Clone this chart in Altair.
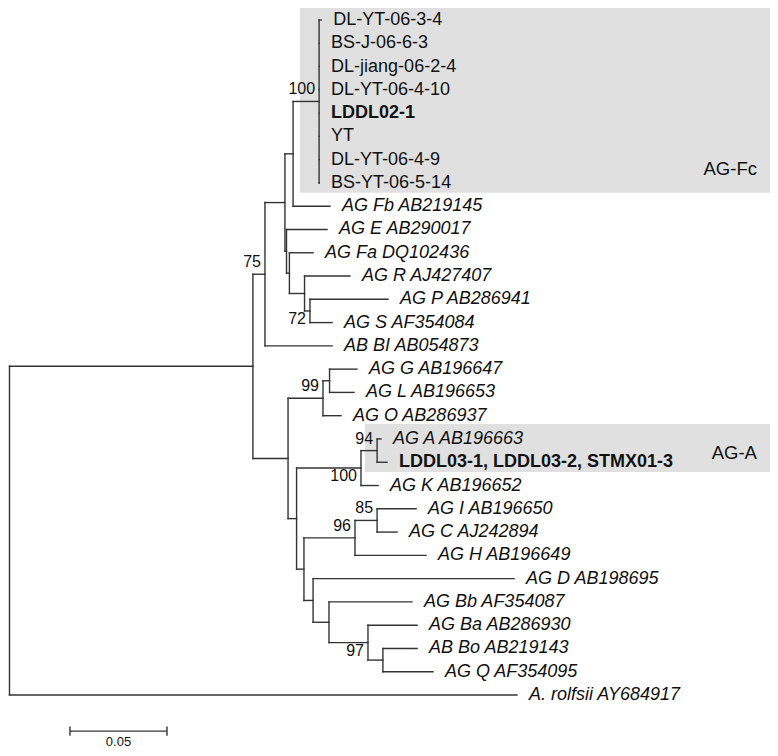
import altair as alt
import pandas as pd

# ---------------- data ----------------
leaf_names = [
    "DL-YT-06-3-4", "BS-J-06-6-3", "DL-jiang-06-2-4", "DL-YT-06-4-10",
    "LDDL02-1", "YT", "DL-YT-06-4-9", "BS-YT-06-5-14",
    "AG Fb AB219145", "AG E AB290017", "AG Fa DQ102436", "AG R AJ427407",
    "AG P AB286941", "AG S AF354084", "AB BI AB054873",
    "AG G AB196647", "AG L AB196653", "AG O AB286937",
    "AG A AB196663", "LDDL03-1, LDDL03-2, STMX01-3", "AG K AB196652",
    "AG I AB196650", "AG C AJ242894", "AG H AB196649",
    "AG D AB198695", "AG Bb AF354087", "AG Ba AB286930",
    "AB Bo AB219143", "AG Q AF354095", "A. rolfsii AY684917",
]
leaf_style = (["regular"] * 4 + ["bold"] + ["regular"] * 3
              + ["italic"] * 11 + ["bold"] + ["italic"] * 10)
leaf_parent = (["nFc"] * 8 +
               ["nA", "nD", "nC", "nR", "nPS", "nPS", "n75",
                "nGL", "nGL", "n99", "n94", "n94", "n100",
                "n85", "n85", "n96", "nW", "nV", "n97",
                "nBoQ", "nBoQ", "root"])
# distance from root (substitutions/site)
leaf_depth = [0.1630, 0.1619, 0.1619, 0.1619, 0.1619, 0.1619, 0.1619, 0.1619,
              0.1675, 0.1660, 0.1588, 0.1778, 0.1974, 0.1686, 0.1686,
              0.1814, 0.1799, 0.1732, 0.1938, 0.1969, 0.1923,
              0.2119, 0.2021, 0.2170, 0.2624, 0.2098, 0.2124,
              0.2124, 0.2206, 0.2639]

node_names = ["root", "nIn", "n75", "nB", "nA", "nFc", "nD", "nC", "nR", "nPS",
              "nX", "n99", "nGL", "nY", "n100", "n94", "nZ", "n96", "n85",
              "nW", "nV", "n97", "nBoQ"]
node_parent = ["", "root", "nIn", "n75", "nB", "nA", "nB", "nD", "nC", "nR",
               "nIn", "nX", "n99", "nX", "nY", "n100", "nY", "nZ", "n96",
               "nZ", "nW", "nV", "n97"]
node_depth = [0.0, 0.1278, 0.1340, 0.1443, 0.1485, 0.1619, 0.1451, 0.1466, 0.1544, 0.1572,
              0.1459, 0.1639, 0.1673, 0.1503, 0.1835, 0.1918, 0.1541, 0.1804, 0.1918,
              0.1588, 0.1670, 0.1871, 0.1948]
node_support = ["", "", "75", "", "", "100", "", "", "", "72",
                "", "99", "", "", "100", "94", "", "96", "85",
                "", "", "97", ""]
support_side = ["", "", "above", "", "", "above", "", "", "", "below",
                "", "above", "", "", "below", "above", "", "above", "above",
                "", "", "below", ""]

clade_names = ["AG-Fc", "AG-A"]
clade_first_leaf = [0, 18]
clade_last_leaf = [7, 19]
clade_box_start = [0.1520, 0.1856]
clade_label_row = [6.4, 18.6]
clade_label_x = [0.3876, 0.3876]

scale_bar_length = 0.05

# ---------------- tree layout ----------------
W, H = 762, 740
PX_PER_UNIT = 97 / scale_bar_length       # scale bar: 0.05 = 97 px
PX_PER_ROW = 23.276
x0 = 3 / PX_PER_UNIT
y0 = -12 / PX_PER_ROW
x_end = x0 + W / PX_PER_UNIT
xs = alt.Scale(domain=[x0, x_end], nice=False, zero=False)
ys = alt.Scale(domain=[y0, y0 + H / PX_PER_ROW], nice=False, zero=False, reverse=True)

depth = {n: d for n, d in zip(node_names, node_depth)}
# keep the root line inside the drawing
depth["root"] = max(depth["root"], x0 + 1.5 / PX_PER_UNIT)
parent = {n: p for n, p in zip(node_names, node_parent)}
children = {n: [] for n in node_names}
ypos = {}
for i, (name, p) in enumerate(zip(leaf_names, leaf_parent)):
    key = "leaf%d" % i
    ypos[key] = float(i)
    depth[key] = leaf_depth[i]
    parent[key] = p
    children[p].append(key)
for n, p in zip(node_names, node_parent):
    if p:
        children[p].append(n)


def get_y(n):
    if n in ypos:
        return ypos[n]
    yy = [get_y(c) for c in children[n]]
    ypos[n] = (min(yy) + max(yy)) / 2.0
    return ypos[n]


get_y("root")

segs = []
for n in list(parent.keys()):
    p = parent[n]
    if p:
        segs.append(dict(x=depth[p], x2=depth[n], y=ypos[n], y2=ypos[n]))
for n in node_names:
    yy = [ypos[c] for c in children[n]]
    segs.append(dict(x=depth[n], x2=depth[n], y=min(yy), y2=max(yy)))
seg_df = pd.DataFrame(segs)

leaf_df = pd.DataFrame(dict(name=leaf_names, style=leaf_style,
                            x=leaf_depth, y=list(range(len(leaf_names)))))
sup_df = pd.DataFrame(dict(label=node_support, side=support_side,
                           x=node_depth, y=[ypos[n] for n in node_names]))
sup_df = sup_df[sup_df.label != ""]

box_df = pd.DataFrame(dict(
    name=clade_names,
    x=clade_box_start,
    x2=[x_end + 0.01] * 2,
    y=[f - 0.64 for f in clade_first_leaf],
    y2=[l + 0.42 for l in clade_last_leaf],
    ly=clade_label_row,
    lx=clade_label_x,
))

bar_y = 30.55
bar_x = 0.0335
bar_df = pd.DataFrame(dict(x=[bar_x, bar_x, bar_x + scale_bar_length],
                           x2=[bar_x + scale_bar_length, bar_x, bar_x + scale_bar_length],
                           y=[bar_y, bar_y - 0.2, bar_y - 0.2],
                           y2=[bar_y, bar_y + 0.2, bar_y + 0.2]))
bar_lab = pd.DataFrame(dict(x=[bar_x + scale_bar_length / 2], y=[bar_y],
                            label=["%.2f" % scale_bar_length]))

FONT = "Liberation Sans"
LINE = "#333333"

boxes = alt.Chart(box_df).mark_rect(color="#e0e0e0").encode(
    x=alt.X("x:Q", scale=xs, axis=None), x2="x2",
    y=alt.Y("y:Q", scale=ys, axis=None), y2="y2")

box_labels = alt.Chart(box_df).mark_text(
    font=FONT, fontSize=18.5, align="right", baseline="middle", color="#111111"
).encode(x=alt.X("lx:Q", scale=xs, axis=None), y=alt.Y("ly:Q", scale=ys, axis=None),
         text="name:N")

tree = alt.Chart(seg_df).mark_rule(color=LINE, strokeWidth=1.4, strokeCap="square").encode(
    x=alt.X("x:Q", scale=xs, axis=None), x2="x2",
    y=alt.Y("y:Q", scale=ys, axis=None), y2="y2")


def leaf_layer(style, **kw):
    return alt.Chart(leaf_df).transform_filter(
        alt.datum.style == style
    ).mark_text(font=FONT, fontSize=18, align="left", baseline="middle",
                dx=12, color="#111111", **kw).encode(
        x=alt.X("x:Q", scale=xs, axis=None), y=alt.Y("y:Q", scale=ys, axis=None),
        text="name:N")


lab_regular = leaf_layer("regular")
lab_italic = leaf_layer("italic", fontStyle="italic")
lab_bold = leaf_layer("bold", fontWeight="bold")


def sup_layer(side, dy):
    return alt.Chart(sup_df).transform_filter(
        alt.datum.side == side
    ).mark_text(font=FONT, fontSize=16, align="right", baseline="middle",
                dx=-4, dy=dy, color="#111111").encode(
        x=alt.X("x:Q", scale=xs, axis=None), y=alt.Y("y:Q", scale=ys, axis=None),
        text="label:N")


sup_above = sup_layer("above", -12)
sup_below = sup_layer("below", 8)

bar = alt.Chart(bar_df).mark_rule(color=LINE, strokeWidth=1.4).encode(
    x=alt.X("x:Q", scale=xs, axis=None), x2="x2",
    y=alt.Y("y:Q", scale=ys, axis=None), y2="y2")
bar_text = alt.Chart(bar_lab).mark_text(
    font=FONT, fontSize=13, align="center", baseline="alphabetic", dy=15, color="#111111"
).encode(x=alt.X("x:Q", scale=xs, axis=None), y=alt.Y("y:Q", scale=ys, axis=None),
         text="label:N")

chart = alt.layer(
    boxes, box_labels, tree, lab_regular, lab_italic, lab_bold,
    sup_above, sup_below, bar, bar_text
).properties(
    width=W, height=H, padding=0,
    autosize=alt.AutoSizeParams(type="none"),
).configure_view(strokeWidth=0)

chart.save("out.html", embed_options={"renderer": "svg", "actions": False})
